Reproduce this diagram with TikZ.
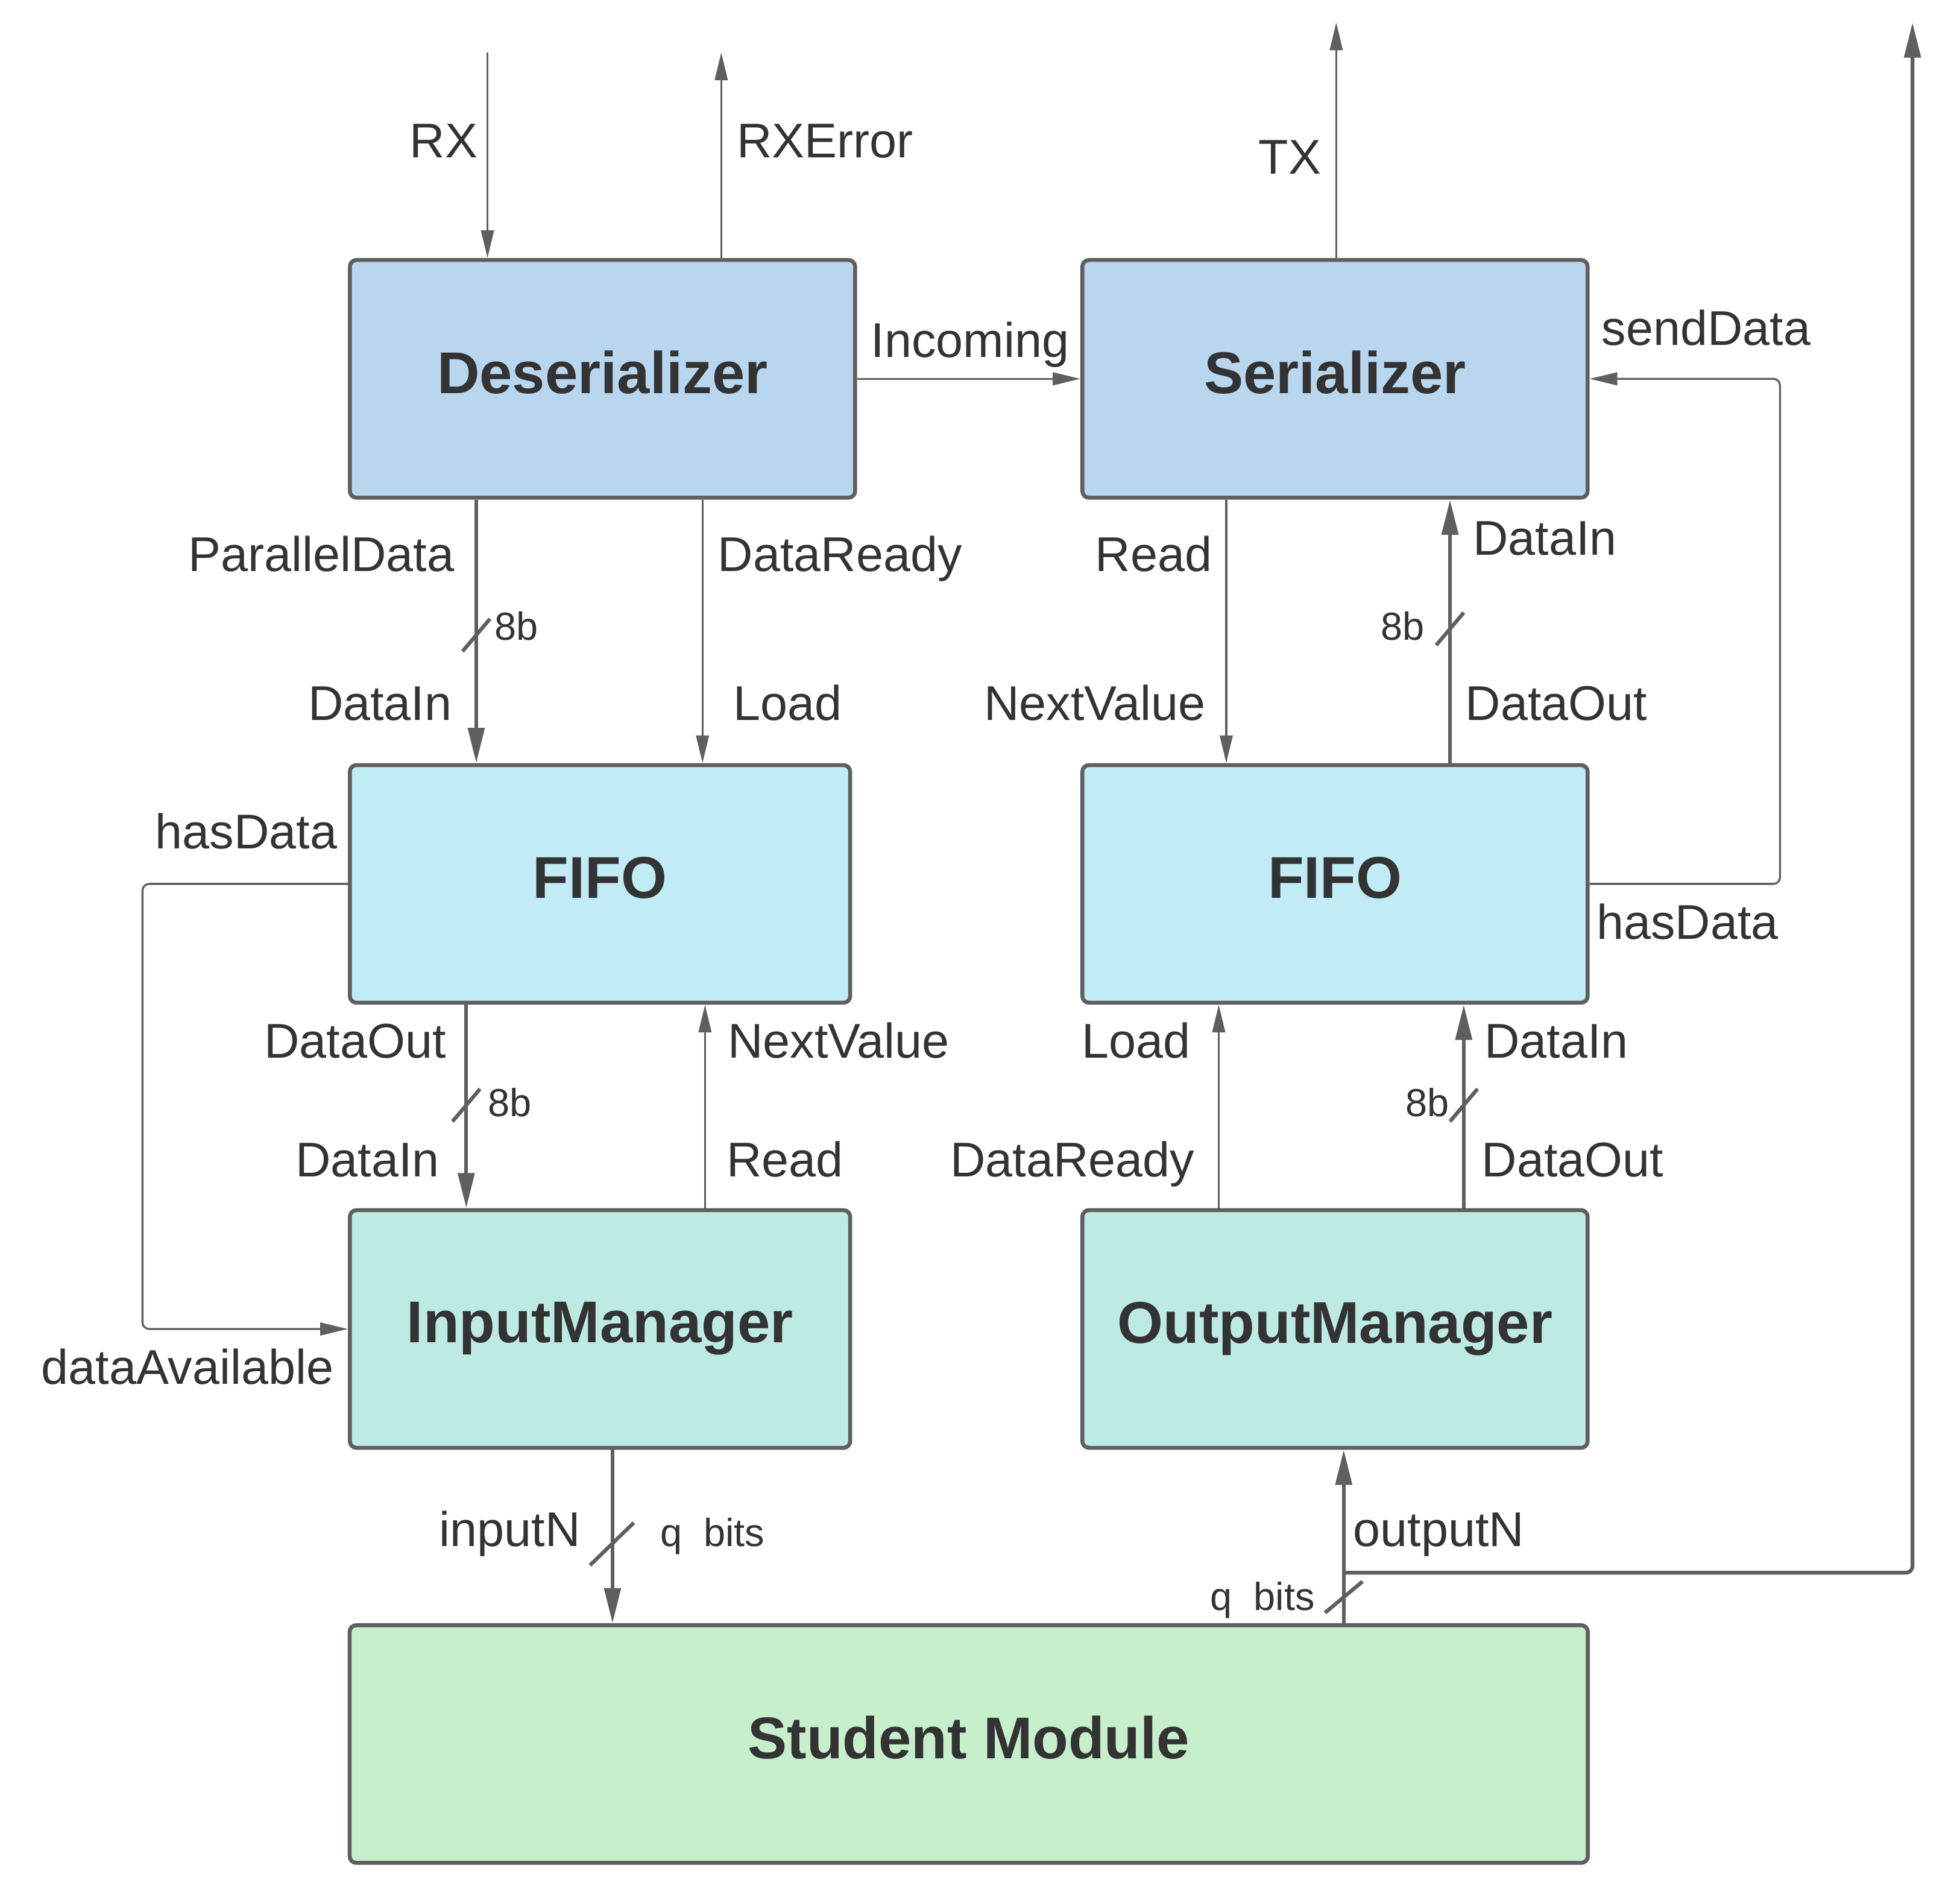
\documentclass[tikz,border=0pt]{standalone}
\usepackage{fontspec}
\setmainfont{Liberation Sans}
\usetikzlibrary{arrows.meta,positioning}
\definecolor{wire}{HTML}{5F5F5F}
\definecolor{ink}{HTML}{333333}
\definecolor{serfill}{HTML}{B8D7EF}
\definecolor{fifofill}{HTML}{C1EBF5}
\definecolor{mgrfill}{HTML}{BDEBE4}
\definecolor{stufill}{HTML}{C6EFCB}
\tikzset{
    block/.style ={
        shape=rectangle,
        rounded corners=1.5pt,
        draw=wire,
        line width=0.9pt,
        text=ink,
        font=\fontsize{13.4}{16}\selectfont\bfseries,
        text depth=3pt,
        minimum width=4.04cm,
        minimum height=1.9cm
    },
    ser/.style ={block, fill=serfill},
    fifo/.style ={block, fill=fifofill},
    mgr/.style ={block, fill=mgrfill},
    student/.style ={block, fill=stufill, minimum width=9.9cm},
    sig/.style ={draw=wire, line width=0.45pt, -{Triangle[length=6.3pt,width=2.9pt]}},
    bus/.style ={draw=wire, line width=0.85pt, -{Triangle[length=8pt,width=3.7pt]}},
    slash/.style ={draw=wire, line width=0.85pt},
    lbl/.style ={text=ink, font=\fontsize{11.1}{13}\selectfont, inner sep=0pt, anchor=base},
    bits/.style ={text=ink, font=\fontsize{8.9}{10}\selectfont, inner sep=0pt, anchor=base}
}

\begin{document}
\begin{tikzpicture}[x=0.01cm,y=-0.01cm]
    \useasboundingbox (0,0) rectangle (1568,1517);
    % blocks
    \node[ser] (des) at (482,303) {Deserializer};
    \node[ser] (ser) at (1068,303) {Serializer};
    \node[fifo, minimum width=4cm] (fifoL) at (480,707) {FIFO};
    \node[fifo] (fifoR) at (1068,707) {FIFO};
    \node[mgr, minimum width=4cm] (inMgr) at (480,1063) {InputManager};
    \node[mgr] (outMgr) at (1068,1063) {OutputManager};
    \node[student] (stu) at (775,1395) {Student Module};

    % free ends
    \coordinate (rxIn) at (390,42);
    \coordinate (rxErr) at (577,42);
    \coordinate (txOut) at (1069,18);
    \coordinate (topOut) at (1530,18);
    \coordinate (tap) at (1075,1258);

    % connectors
    \draw[sig] (rxIn) -- (rxIn |- des.north);
    \draw[sig] (des.north -| rxErr) -- (rxErr);
    \draw[sig] (des.east) -- (ser.west);
    \draw[sig] (ser.north -| txOut) -- (txOut);
    \draw[bus] (des.south -| 381,0) -- (fifoL.north -| 381,0);
    \draw[sig] (des.south -| 562,0) -- (fifoL.north -| 562,0);
    \draw[sig] (ser.south -| 981,0) -- (fifoR.north -| 981,0);
    \draw[bus] (fifoR.north -| 1160,0) -- (ser.south -| 1160,0);
    \draw[sig, rounded corners=1.5pt] (fifoR.east) -| (1424,0 |- ser.east) -- (ser.east);
    \draw[sig, rounded corners=1.5pt] (fifoL.west) -| (114,0 |- inMgr.west) -- (inMgr.west);
    \draw[bus] (fifoL.south -| 373,0) -- (inMgr.north -| 373,0);
    \draw[sig] (inMgr.north -| 564,0) -- (fifoL.south -| 564,0);
    \draw[sig] (outMgr.north -| 975,0) -- (fifoR.south -| 975,0);
    \draw[bus] (outMgr.north -| 1171,0) -- (fifoR.south -| 1171,0);
    \draw[bus] (inMgr.south -| 490,0) -- (stu.north -| 490,0);
    \draw[bus] (stu.north -| tap) -- (outMgr.south -| tap);
    \draw[bus, rounded corners=1.5pt] (tap) -| (topOut);

    % bus width marks
    \foreach \x/\y in {381/508, 1160/503, 373/884, 1171/884}
        \draw[slash] (\x-11,\y+13) -- (\x+11,\y-13);
    \draw[slash] (472,1252) -- (507,1218);
    \draw[slash] (1060,1290) -- (1090,1265);

    % labels
    \node[lbl] (lRX) at (355,126) {RX};
    \node[lbl] (lRXErr) at (660,126) {RXError};
    \node[lbl] (lTX) at (1032,139) {TX};
    \node[lbl] (lInc) at (776,286) {Incoming};
    \node[lbl] (lPar) at (257,457) {ParallelData};
    \node[lbl] (lDRdy) at (672,457) {DataReady};
    \node[lbl] (lRead) at (923,457) {Read};
    \node[lbl] (lSerIn) at (1236,444) {DataIn};
    \node[lbl] (lFLIn) at (304,576) {DataIn};
    \node[lbl] (lFLLoad) at (630,576) {Load};
    \node[lbl] (lFRNext) at (876,576) {NextValue};
    \node[lbl] (lFROut) at (1245,576) {DataOut};
    \node[lbl] (lSend) at (1365,276) {sendData};
    \node[lbl] (lHasR) at (1350,751) {hasData};
    \node[lbl] (lHasL) at (197,679) {hasData};
    \node[lbl] (lFLOut) at (284,846) {DataOut};
    \node[lbl] (lFLNext) at (671,846) {NextValue};
    \node[lbl] (lFRLoad) at (909,846) {Load};
    \node[lbl] (lFRIn) at (1245,846) {DataIn};
    \node[lbl] (lIMIn) at (294,941) {DataIn};
    \node[lbl] (lIMRead) at (628,941) {Read};
    \node[lbl] (lOMRdy) at (858,941) {DataReady};
    \node[lbl] (lOMOut) at (1258,941) {DataOut};
    \node[lbl] (lAvail) at (150,1107) {dataAvailable};
    \node[lbl] (lInN) at (408,1237) {inputN};
    \node[lbl] (lOutN) at (1151,1237) {outputN};

    \node[bits] (b1) at (413,512) {8b};
    \node[bits] (b2) at (1122,512) {8b};
    \node[bits] (b3) at (408,893) {8b};
    \node[bits] (b4) at (1142,893) {8b};
    \node[bits] (qIn) at (570,1237) {q\ \ bits};
    \node[bits] (qOut) at (1010,1288) {q\ \ bits};
\end{tikzpicture}
\end{document}
